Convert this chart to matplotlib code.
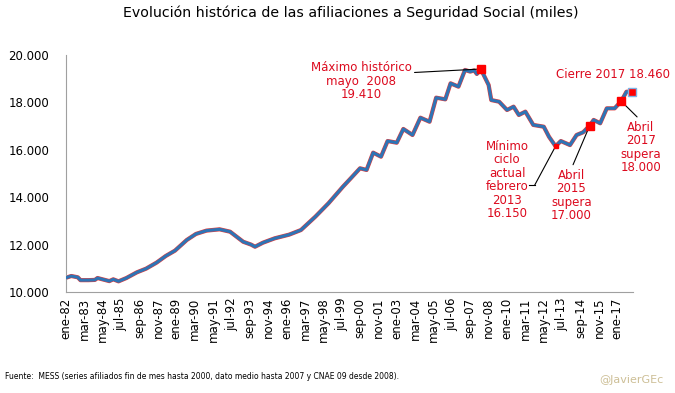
import matplotlib
matplotlib.use("Agg")
from matplotlib import pyplot as plt
from matplotlib.ticker import FuncFormatter

# afiliados (miles), fechas "AAAA-MM"
fechas = ["1982-01", "1982-05", "1982-10", "1982-12", "1983-06", "1983-11", "1984-01", "1984-10",
          "1985-01", "1985-05", "1985-11", "1986-07", "1987-02", "1987-10", "1988-05", "1988-12",
          "1989-09", "1990-04", "1990-12", "1991-10", "1992-06", "1993-04", "1993-10", "1994-01",
          "1994-07", "1995-04", "1996-03", "1996-12", "1997-11", "1998-09", "1999-08", "2000-02",
          "2000-09", "2001-02", "2001-07", "2002-01", "2002-06", "2003-01", "2003-06", "2004-01",
          "2004-07", "2005-02", "2005-07", "2006-02", "2006-06", "2006-12", "2007-05", "2007-09",
          "2007-12", "2008-02", "2008-05", "2008-11", "2009-01", "2009-07", "2010-01", "2010-06",
          "2010-10", "2011-03", "2011-09", "2012-05", "2012-09", "2013-02", "2013-06", "2014-01",
          "2014-06", "2014-11", "2015-04", "2015-07", "2015-12", "2016-05", "2016-11", "2017-04",
          "2017-08", "2017-12"]
afiliados = [10600, 10675, 10620, 10500, 10500, 10510, 10590, 10460,
             10535, 10450, 10590, 10830, 10985, 11240, 11520, 11745,
             12195, 12450, 12590, 12645, 12545, 12120, 12000, 11910,
             12080, 12265, 12420, 12615, 13180, 13745, 14445, 14800,
             15220, 15150, 15880, 15710, 16370, 16300, 16880, 16625,
             17355, 17185, 18200, 18130, 18805, 18665, 19370, 19300,
             19350, 19200, 19410, 18735, 18100, 18030, 17680, 17820,
             17470, 17610, 17050, 16975, 16550, 16150, 16370, 16200,
             16625, 16740, 17020, 17260, 17120, 17750, 17750, 18050,
             18450, 18460]

hitos_fecha = ["2008-05", "2015-04", "2017-04", "2017-12"]
hitos_valor = [19410, 17020, 18050, 18460]
minimo_fecha = "2013-02"
minimo_valor = 16150

tick_labels = ["ene-82", "mar-83", "may-84", "jul-85", "sep-86", "nov-87", "ene-89", "mar-90",
               "may-91", "jul-92", "sep-93", "nov-94", "ene-96", "mar-97", "may-98", "jul-99",
               "sep-00", "nov-01", "ene-03", "mar-04", "may-05", "jul-06", "sep-07", "nov-08",
               "ene-10", "mar-11", "may-12", "jul-13", "sep-14", "nov-15", "ene-17"]


def mes(f):
    a, m = f.split("-")
    return (int(a) - 1982) * 12 + int(m) - 1


x = [mes(f) for f in fechas]
rojo = "#DC0A1E"

fig = plt.figure(figsize=(6.75, 3.93), dpi=100)
ax = fig.add_axes([0.0978, 0.257, 0.840, 0.603])

ax.plot(x, afiliados, color="#E04040", lw=3.0, solid_joinstyle="round", zorder=2)
ax.plot(x, afiliados, color="#2E74B5", lw=2.2, solid_joinstyle="round", zorder=3)
ax.plot([mes(f) for f in hitos_fecha[:3]], hitos_valor[:3], "s", color="red", ms=6, zorder=4)
ax.plot(mes(hitos_fecha[3]), hitos_valor[3], "s", color="red", mec="#7FB2E5", mew=1, ms=6,
        zorder=4, clip_on=False)
ax.plot(mes(minimo_fecha), minimo_valor, "s", color="red", ms=3, zorder=4)

ax.set_xlim(0, 432)
ax.set_ylim(10000, 20000)
ax.set_yticks(range(10000, 20001, 2000))
ax.yaxis.set_major_formatter(FuncFormatter(lambda v, p: f"{int(v):,}".replace(",", ".")))
ax.set_xticks([i * 14 for i in range(len(tick_labels))])
ax.set_xticklabels(tick_labels, rotation=90, fontsize=8.5)
ax.tick_params(axis="y", labelsize=8.5, length=0, pad=12)
ax.tick_params(axis="x", length=0, pad=4)
for s in ["top", "right"]:
    ax.spines[s].set_visible(False)
for s in ["left", "bottom"]:
    ax.spines[s].set_color("#A0A0A0")

fig.text(0.519, 0.967, "Evolución histórica de las afiliaciones a Seguridad Social (miles)",
         ha="center", va="center", fontsize=10.2)

txt = dict(color=rojo, fontsize=8.5, ha="center", va="top", linespacing=1.05)
ax.annotate("Máximo histórico\nmayo  2008\n19.410", xy=(mes("2008-05"), 19410),
            xytext=(225, 19730), **txt,
            arrowprops=dict(arrowstyle="-", color="black", lw=0.8, shrinkA=0, shrinkB=0,
                            relpos=(1.0, 0.72)))
ax.annotate("Cierre 2017 18.460", xy=(mes("2017-12"), 18460), xytext=(417, 19160),
            color=rojo, fontsize=8.5, ha="center", va="center",
            arrowprops=dict(arrowstyle="-", color="black", lw=0.8, shrinkA=6, shrinkB=0))
ax.annotate("Abril\n2017\nsupera\n18.000", xy=(mes("2017-04"), 18050), xytext=(438, 17230),
            **txt, arrowprops=dict(arrowstyle="-", color="black", lw=0.8, shrinkA=1, shrinkB=0,
                                   relpos=(0.5, 1.0)))
ax.annotate("Abril\n2015\nsupera\n17.000", xy=(mes("2015-04"), 17020), xytext=(385, 15200),
            **txt, arrowprops=dict(arrowstyle="-", color="black", lw=0.8, shrinkA=1, shrinkB=0,
                                   relpos=(0.5, 1.0)))
ax.text(336, 16420, "Mínimo\nciclo\nactual\nfebrero\n2013\n16.150", **txt)
ax.annotate("", xy=(mes(minimo_fecha), minimo_valor), xytext=(357, 14500),
            arrowprops=dict(arrowstyle="-", color="black", lw=0.8, shrinkA=0, shrinkB=0))
ax.plot([353, 357], [14500, 14500], color="black", lw=0.8)

fig.text(0.008, 0.043, "Fuente:  MESS (series afiliados fin de mes hasta 2000, dato medio hasta 2007 "
         "y CNAE 09 desde 2008).", fontsize=5.5, va="center")
fig.text(0.888, 0.033, "@JavierGEc", fontsize=8, color="#CDBF96", va="center")

fig.savefig("out.png", dpi=100)
